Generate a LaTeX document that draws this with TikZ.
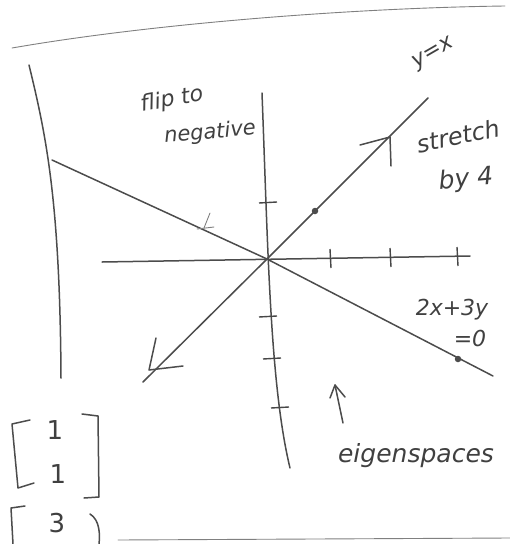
\documentclass[tikz,border=0pt]{standalone}
\usepackage{fontspec}
\setmainfont{DejaVu Sans}
\begin{document}
\begin{tikzpicture}[x=1pt,y=-1pt,
  pencil/.style={draw=black!70,line width=1.5pt,line cap=round,line join=round},
  faint/.style={draw=black!50,line width=0.9pt,line cap=round},
  tickmark/.style={draw=black!72,line width=1.4pt},
  hand/.style={text=black!75,font=\fontsize{19}{21}\selectfont\itshape,inner sep=0pt},
  dotmark/.style={circle,fill=black!70,inner sep=0pt,minimum size=6.5pt}]
\useasboundingbox (0,0) rectangle (510,544);
% page edges
\coordinate (tl) at (12,48); \coordinate (tr) at (505,6);
\draw[faint] (tl) .. controls (150,24) and (350,8) .. (tr);
\coordinate (bl) at (118,540); \coordinate (br) at (510,538);
\draw[faint] (bl) -- (br);
% left margin line
\coordinate (lt) at (29,65); \coordinate (lb) at (61,378);
\draw[pencil] (lt) .. controls (46,135) and (60,200) .. (lb);
% axes
\coordinate (O) at (267,259);
\coordinate (vt) at (262,93); \coordinate (vb) at (290,468);
\draw[pencil] (vt) .. controls (268,250) and (270,385) .. (vb);
\coordinate (hl) at (102,262); \coordinate (hr) at (470,256);
\draw[pencil] (hl) -- (hr);
% ticks on x axis
\foreach \x/\y in {330/258,390/257,457/256}
  \draw[tickmark] (\x,\y-9) -- (\x+1,\y+10);
% ticks on y axis
\foreach \x/\y in {268/203,268/317,272/359,280/408}
  \draw[tickmark] (\x-9,\y) -- (\x+9,\y-1);
% line 2x+3y=0
\coordinate (nl) at (52,160); \coordinate (nr) at (493,376);
\draw[pencil] (nl) -- (O) -- (nr);
\node[dotmark] (d1) at (458,359) {};
% line y=x
\coordinate (el) at (143,382); \coordinate (er) at (428,98);
\draw[pencil] (el) -- (O) -- (er);
\node[dotmark] (d2) at (315,211) {};
% mid arrowhead up-right
\coordinate (ah) at (390,137);
\draw[pencil] (360,145) -- (ah) -- (391,166);
% arrowhead lower-left
\coordinate (bh) at (149,370);
\draw[pencil] (156,338) -- (bh) -- (183,366);
% labels
\node[hand,rotate=10,font=\fontsize{22}{24}\selectfont\itshape] (flip) at (172,100) {flip to};
\node[hand,rotate=5,font=\fontsize{21}{23}\selectfont\itshape] (neg) at (210,133) {negative};
\coordinate (fa) at (210,213); \coordinate (fb) at (204,228);
\draw[faint] (fa) -- (fb); \draw[faint] (197,229) -- (214,227);
\node[hand,rotate=30,font=\fontsize{22}{24}\selectfont\itshape] (yx) at (434,54) {y=x};
\node[hand,rotate=12,font=\fontsize{24}{26}\selectfont\itshape] (st) at (458,136) {stretch};
\node[hand,rotate=5,font=\fontsize{25}{27}\selectfont\itshape] (by) at (466,180) {by 4};
\node[hand,font=\fontsize{22}{24}\selectfont\itshape] (eq1) at (452,310) {2x+3y};
\node[hand,font=\fontsize{22}{24}\selectfont\itshape] (eq2) at (470,338) {=0};
\coordinate (ua) at (343,423); \coordinate (ub) at (335,385);
\draw[pencil] (ua) -- (ub);
\draw[pencil] (330,398) -- (ub) -- (345,397);
\node[hand,font=\fontsize{25}{27}\selectfont\itshape] (eig) at (416,456) {eigenspaces};
% matrix
\draw[pencil] (30,420) -- (12,424) -- (18,488) -- (34,483);
\draw[pencil] (82,414) -- (98,416) -- (99,497) -- (84,498);
\node[hand,font=\fontsize{26}{28}\selectfont] (m1) at (55,430) {1};
\node[hand,font=\fontsize{26}{28}\selectfont] (m2) at (58,474) {1};
\draw[pencil] (25,506) -- (11,508) -- (13,544);
\node[hand,font=\fontsize{26}{28}\selectfont] (m3) at (57,523) {3};
\draw[pencil] (90,514) .. controls (100,520) and (100,535) .. (99,544);
\end{tikzpicture}
\end{document}
